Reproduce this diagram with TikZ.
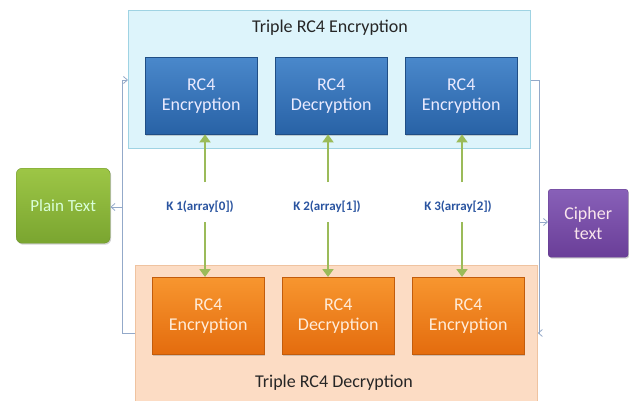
\documentclass[tikz,border=0pt]{standalone}
\usepackage{fontspec}
\setmainfont{Carlito}
\usetikzlibrary{arrows.meta,shadows}
\definecolor{encfill}{HTML}{DDF4FB}
\definecolor{encborder}{HTML}{9FD3E3}
\definecolor{decfill}{HTML}{FCDCC4}
\definecolor{decborder}{HTML}{EFC3A0}
\definecolor{bluetop}{HTML}{4A88CB}
\definecolor{bluebot}{HTML}{2862A6}
\definecolor{orgtop}{HTML}{F7962F}
\definecolor{orgbot}{HTML}{E46C0E}
\definecolor{grntop}{HTML}{9DC646}
\definecolor{grnbot}{HTML}{7AA530}
\definecolor{purtop}{HTML}{8860B8}
\definecolor{purbot}{HTML}{6A3E98}
\definecolor{keyarrow}{HTML}{9BBB59}
\definecolor{keytext}{HTML}{2A54A0}
\definecolor{wire}{HTML}{93A9C9}
\begin{document}
\begin{tikzpicture}[x=1pt,y=-1pt,
  container/.style={draw, line width=0.8pt, anchor=north west, inner sep=0pt},
  rcbox/.style={minimum width=112pt, minimum height=77pt, anchor=north west,
    align=center, font=\fontsize{18}{20}\selectfont, inner sep=0pt,
    drop shadow={shadow xshift=1pt, shadow yshift=-1.5pt, opacity=0.35}},
  bluebox/.style={rcbox, top color=bluetop, bottom color=bluebot, draw=bluebot!80!black, text=white!92!blue},
  orangebox/.style={rcbox, top color=orgtop, bottom color=orgbot, draw=orgbot!85!black, text=white!85!orange},
  title/.style={font=\fontsize{18}{20}\selectfont, text=black!85},
  keylbl/.style={font=\fontsize{13}{14}\selectfont\bfseries, text=keytext},
  keyarr/.style={draw=keyarrow, line width=2.8pt, -{Triangle[length=8pt,width=11pt]}},
  wireline/.style={draw=wire, line width=0.8pt},
  wirearr/.style={wireline, -{Straight Barb[length=4pt,width=7pt]}}
]
\useasboundingbox (0,0) rectangle (629,401);
\fill[white] (0,0) rectangle (629,401);

% containers
\node[container, draw=encborder, fill=encfill, minimum width=402pt, minimum height=138pt] (enc) at (128,10) {};
\node[container, draw=decborder, fill=decfill, minimum width=402pt, minimum height=140pt] (dec) at (135,265) {};
\node[title] (enctitle) at (330,28) {Triple RC4 Encryption};
\node[title] (dectitle) at (334,383) {Triple RC4 Decryption};

% top boxes
\node[bluebox] (e1) at (145,57) {RC4\\Encryption};
\node[bluebox] (e2) at (275,57) {RC4\\Decryption};
\node[bluebox] (e3) at (405,57) {RC4\\Encryption};

% bottom boxes
\node[orangebox] (d1) at (152,277) {RC4\\Encryption};
\node[orangebox] (d2) at (282,277) {RC4\\Decryption};
\node[orangebox] (d3) at (412,277) {RC4\\Encryption};

% side boxes
\node[draw=grnbot!90!black, top color=grntop, bottom color=grnbot, rounded corners=6pt,
  minimum width=94pt, minimum height=75pt, anchor=north west, inner sep=0pt,
  font=\fontsize{17}{18}\selectfont, text=white!85!green,
  drop shadow={shadow xshift=1pt, shadow yshift=-1.5pt, opacity=0.35}] (plain) at (16,168) {Plain Text};
\node[draw=purbot!90!black, top color=purtop, bottom color=purbot, rounded corners=3pt,
  minimum width=80pt, minimum height=68pt, anchor=north west, inner sep=0pt, align=center,
  font=\fontsize{18}{20}\selectfont, text=white!90!purple,
  drop shadow={shadow xshift=1pt, shadow yshift=-1.5pt, opacity=0.35}] (cipher) at (548,189) {Cipher\\text};

% key labels
\node[keylbl] (k1) at (200,207) {K 1(array[0])};
\node[keylbl] (k2) at (327,207) {K 2(array[1])};
\node[keylbl] (k3) at (458,207) {K 3(array[2])};

% key arrows
\coordinate (k1u) at (205,182); \coordinate (k2u) at (328,182); \coordinate (k3u) at (462,182);
\coordinate (k1d) at (205,222); \coordinate (k2d) at (328,222); \coordinate (k3d) at (462,222);
\draw[keyarr] (k1u) -- (k1u |- e1.south);
\draw[keyarr] (k2u) -- (k2u |- e2.south);
\draw[keyarr] (k3u) -- (k3u |- e3.south);
\draw[keyarr] (k1d) -- (k1d |- d1.north);
\draw[keyarr] (k2d) -- (k2d |- d2.north);
\draw[keyarr] (k3d) -- (k3d |- d3.north);

% wires left
\coordinate (lt) at (122,80);
\coordinate (lm) at (122,207);
\coordinate (lb) at (122,333);
\draw[wirearr] (dec.west |- lb) -- (lb) -- (lt) -- (enc.west |- lt);
\draw[wirearr] (lm) -- (plain.east |- lm);

% wires right
\coordinate (rt) at (539,80);
\coordinate (rm) at (539,222);
\coordinate (rb) at (539,333);
\draw[wirearr] (enc.east |- rt) -- (rt) -- (rm) -- (cipher.west |- rm);
\draw[wirearr] (rm) -- (rb) -- (dec.east |- rb);
\end{tikzpicture}
\end{document}
